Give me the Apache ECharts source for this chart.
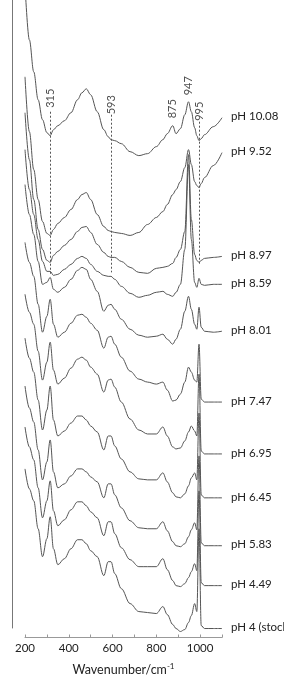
<!DOCTYPE html>
<html>
<head>
<meta charset="utf-8">
<script src="https://cdn.jsdelivr.net/npm/echarts@6/dist/echarts.min.js"></script>
<style>
html,body{margin:0;padding:0;background:#fff;}
#chart{width:284px;height:681px;}
</style>
</head>
<body>
<div id="chart"></div>
<script>
// Wavenumber grid (cm-1) at which each spectrum was read
const wavenumbers = [200,220,240,260,280,300,315,330,350,380,410,440,460,480,500,530,560,580,593,610,640,680,720,760,800,830,850,875,890,910,930,947,960,975,985,995,1005,1020,1060,1100];

// Spectrum names (top to bottom)
const seriesNames = ['pH 10.08','pH 9.52','pH 8.97','pH 8.59','pH 8.01','pH 7.47','pH 6.95','pH 6.45','pH 5.83','pH 4.49','pH 4 (stock)'];

// Vertical stacking offset of each spectrum (arb. units)
const offsets = [52.1, 48.6, 38.2, 35.4, 30.7, 23.6, 18.4, 14.0, 9.2, 5.2, 0.9];

// Intensities (arb. units, relative to value at 1100 cm-1)
const pH10_08 = [13.3,7.8,4.6,1.8,-0.2,-1.5,-1.8,-1.2,-0.8,-0.3,0.5,1.8,2.5,2.9,2.3,0.6,-1.2,-1.9,-2.2,-2.3,-2.6,-3.4,-3.8,-3.6,-2.9,-2.2,-1.6,-0.8,-1.6,-1.1,0.3,1.6,0.6,-1.0,-1.8,-2.3,-2.1,-1.7,-0.9,0.0];
const pH9_52 = [7.6,2.1,-1.7,-4.7,-6.9,-8.1,-8.3,-7.7,-7.1,-6.5,-5.7,-4.7,-4.2,-4.0,-4.7,-6.2,-7.4,-7.8,-7.9,-8.0,-8.1,-8.3,-8.0,-7.2,-6.5,-5.9,-5.2,-4.2,-3.7,-2.9,-1.5,0.3,-1.2,-2.9,-3.3,-3.5,-3.1,-2.5,-1.3,0.0];
const pH8_97 = [14.4,9.7,5.7,2.7,0.7,-0.4,-0.6,0.1,0.5,1.1,1.7,2.5,2.9,3.0,2.4,1.2,0.4,0.0,-0.1,-0.1,-0.5,-1.1,-1.6,-1.7,-1.2,-1.1,-1.0,-0.7,-0.1,0.7,2.5,10.2,3.7,0.2,-0.4,-0.6,-0.4,-0.2,-0.1,0.0];
const pH8_59 = [13.5,9.5,7.0,4.5,2.3,1.3,1.3,0.9,1.0,1.5,2.0,2.6,2.8,2.6,2.0,1.3,0.9,0.8,0.8,0.5,-0.2,-0.9,-1.3,-1.1,-0.8,-0.7,-1.0,-1.2,-0.8,0.0,3.5,12.0,4.5,0.2,-0.3,0.6,0.0,-0.1,0.0,0.0];
const pH8_01 = [14.7,11.7,9.7,7.0,4.7,4.9,5.4,4.2,3.9,4.4,5.2,6.1,6.4,6.2,5.2,4.0,2.0,2.6,2.7,2.2,1.2,0.2,-0.4,-0.6,-0.5,-0.3,-0.8,-1.3,-0.8,0.2,2.0,3.5,2.2,0.7,0.2,2.4,0.4,0.0,-0.1,0.0];
const pH7_47 = [16.0,14.0,12.6,9.8,7.0,8.6,10.3,7.8,6.5,7.0,7.9,8.7,8.8,8.5,7.9,7.2,5.4,6.5,6.6,5.8,4.5,3.1,2.3,2.0,1.8,2.0,1.2,0.1,0.2,0.8,2.0,3.5,3.0,2.2,2.0,5.8,0.3,0.0,0.0,0.0];
const pH6_95 = [16.0,14.2,13.0,10.3,7.4,9.2,11.2,8.4,7.0,7.6,8.6,9.5,9.7,9.4,8.7,8.0,6.2,7.4,7.5,6.7,5.2,3.5,2.4,2.0,2.0,2.7,1.8,0.7,0.5,0.6,1.3,2.2,2.8,2.3,1.8,8.0,0.3,0.0,0.0,0.0];
const pH6_45 = [16.0,14.0,12.6,9.8,6.8,8.8,11.2,7.8,6.2,6.7,7.5,8.2,8.2,7.8,7.2,6.6,4.8,6.2,6.2,5.2,3.9,2.6,1.9,1.8,1.8,2.5,1.6,0.5,0.1,0.0,0.4,1.2,2.0,2.5,1.8,8.5,0.3,0.0,0.0,0.0];
const pH5_83 = [16.0,13.8,12.4,9.6,6.6,8.4,10.6,7.4,5.8,6.2,7.0,7.7,7.7,7.4,6.9,6.4,4.8,6.2,6.2,5.1,3.8,2.5,1.8,1.7,1.7,2.4,1.5,0.4,0.0,-0.1,0.2,0.9,1.6,2.3,1.6,9.0,0.3,0.0,0.0,0.0];
const pH4_49 = [15.9,13.9,12.6,9.8,6.8,8.5,10.5,7.5,6.0,6.6,7.6,8.4,8.4,8.0,7.4,6.8,5.0,6.4,6.4,5.2,3.8,2.6,1.9,1.9,1.9,2.7,1.6,0.5,0.0,-0.1,0.2,0.8,1.4,2.2,1.5,9.5,0.3,0.0,0.0,0.0];
const pH4_0 = [16.0,14.0,12.8,10.0,7.2,9.0,11.2,8.0,6.4,7.0,8.0,8.9,8.9,8.5,7.8,7.2,5.3,6.7,6.7,5.5,4.0,2.5,1.7,1.6,1.5,2.2,1.4,0.4,0.0,-0.3,-0.1,0.6,1.3,2.5,1.7,10.0,0.3,0.0,0.0,0.0];

const spectra = [pH10_08,pH9_52,pH8_97,pH8_59,pH8_01,pH7_47,pH6_95,pH6_45,pH5_83,pH4_49,pH4_0];

// Peak annotations: wavenumber and label height (arb. units)
const peakLabels = [315, 593, 875, 947, 995];
const peakLabelHeights = [54.05, 53.4, 53.0, 55.3, 52.75];
// Dashed guide lines: wavenumber, top, bottom (arb. units)
const guideWavenumbers = [315, 593, 995];
const guideTops = [52.7, 52.4, 51.7];
const guideBottoms = [36.4, 36.6, 37.4];

// x axis ticks
const xMin = 200, xMax = 1100, xStep = 100;
const xLabelStep = 200;

const FONT = 'Lato';
const chart = echarts.init(document.getElementById('chart'), null, {renderer:'canvas'});

const lineSeries = spectra.map((s, i) => ({
  name: seriesNames[i],
  type: 'line',
  xAxisIndex: 0, yAxisIndex: 0,
  data: s.map((v, j) => [wavenumbers[j], +(v + offsets[i]).toFixed(2)]),
  showSymbol: false,
  smooth: 0.35,
  smoothMonotone: 'x',
  clip: true,
  lineStyle: {color: '#555', width: 1},
  endLabel: {
    show: true,
    formatter: seriesNames[i],
    distance: 9,
    color: '#222',
    fontFamily: FONT,
    fontSize: 11.5,
    offset: [0, -1]
  },
  silent: true,
  z: 2
}));

const annotationSeries = {
  type: 'scatter',
  xAxisIndex: 0, yAxisIndex: 0,
  data: peakLabels.map((w, i) => [w, peakLabelHeights[i]]),
  symbolSize: 0,
  silent: true,
  label: {
    show: true,
    position: 'inside',
    rotate: 90,
    align: 'center',
    verticalAlign: 'middle',
    formatter: p => String(p.value[0]),
    color: '#222',
    fontFamily: FONT,
    fontSize: 11
  },
  markLine: {
    silent: true,
    symbol: 'none',
    label: {show: false},
    lineStyle: {type: [2, 2], color: '#555', width: 1},
    data: guideWavenumbers.map((w, i) => [{coord: [w, guideTops[i]]}, {coord: [w, guideBottoms[i]]}])
  },
  z: 3
};

const option = {
  animation: false,
  backgroundColor: '#fff',
  grid: [
    {left: 25, top: 0, width: 197, height: 639},
    {left: 12, top: 0, width: 1, height: 628}
  ],
  xAxis: [
    {
      type: 'value', gridIndex: 0, min: xMin, max: xMax, interval: xStep,
      axisLine: {show: true, lineStyle: {color: '#999', width: 1}},
      axisTick: {show: true, inside: true, length: 3, lineStyle: {color: '#999'}},
      splitLine: {show: false},
      axisLabel: {
        color: '#222', fontFamily: FONT, fontSize: 11.5, margin: 5,
        formatter: v => (v % xLabelStep === 0 && v < xMax) ? String(v) : ''
      },
      name: '{a|Wavenumber/cm}{s|-1}',
      nameLocation: 'middle',
      nameGap: 25,
      nameTextStyle: {
        rich: {
          a: {fontFamily: FONT, fontSize: 12.5, color: '#222'},
          s: {fontFamily: FONT, fontSize: 8, color: '#222', verticalAlign: 'top', padding: [0,0,6,0]}
        }
      }
    },
    {type: 'value', gridIndex: 1, show: false, min: 0, max: 1}
  ],
  yAxis: [
    {type: 'value', gridIndex: 0, min: 0, max: 63.9, show: false},
    {
      type: 'value', gridIndex: 1, min: 0, max: 1,
      axisLine: {show: true, lineStyle: {color: '#777', width: 1}},
      axisTick: {show: false}, axisLabel: {show: false}, splitLine: {show: false}
    }
  ],
  series: [...lineSeries, annotationSeries]
};
chart.setOption(option);
</script>
</body>
</html>
